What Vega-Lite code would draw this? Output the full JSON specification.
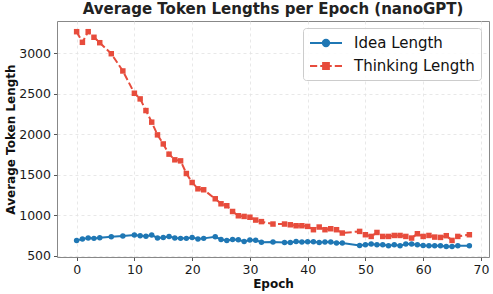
{
  "$schema": "https://vega.github.io/schema/vega-lite/v6.json",
  "width": 432,
  "height": 236,
  "autosize": {"type": "none"},
  "padding": {"left": 57, "top": 21, "right": 4, "bottom": 37},
  "background": "white",
  "title": {
    "text": "Average Token Lengths per Epoch (nanoGPT)",
    "font": "DejaVu Sans",
    "fontSize": 15,
    "fontWeight": "bold",
    "color": "#222222",
    "anchor": "middle",
    "frame": "group",
    "offset": 4
  },
  "config": {
    "view": {"stroke": "#888888", "strokeWidth": 1},
    "axis": {
      "labelFont": "DejaVu Sans",
      "labelFontSize": 12.5,
      "labelColor": "#1a1a1a",
      "titleFont": "DejaVu Sans",
      "titleFontSize": 12,
      "titleFontWeight": "bold",
      "titleColor": "#111111",
      "domain": false,
      "tickColor": "#555555",
      "tickSize": 3.5,
      "grid": true,
      "gridColor": "#e2e2e2",
      "gridDash": [3, 3],
      "gridWidth": 0.8
    }
  },
  "data": {
    "values": [
      {"epoch": 0, "series": "Idea Length", "value": 689},
      {"epoch": 1, "series": "Idea Length", "value": 706},
      {"epoch": 2, "series": "Idea Length", "value": 718},
      {"epoch": 3, "series": "Idea Length", "value": 714},
      {"epoch": 4, "series": "Idea Length", "value": 722},
      {"epoch": 6, "series": "Idea Length", "value": 734},
      {"epoch": 8, "series": "Idea Length", "value": 743},
      {"epoch": 10, "series": "Idea Length", "value": 755},
      {"epoch": 11, "series": "Idea Length", "value": 747},
      {"epoch": 12, "series": "Idea Length", "value": 740},
      {"epoch": 13, "series": "Idea Length", "value": 755},
      {"epoch": 14, "series": "Idea Length", "value": 720},
      {"epoch": 15, "series": "Idea Length", "value": 724},
      {"epoch": 16, "series": "Idea Length", "value": 736},
      {"epoch": 17, "series": "Idea Length", "value": 718},
      {"epoch": 18, "series": "Idea Length", "value": 714},
      {"epoch": 19, "series": "Idea Length", "value": 714},
      {"epoch": 20, "series": "Idea Length", "value": 726},
      {"epoch": 21, "series": "Idea Length", "value": 706},
      {"epoch": 22, "series": "Idea Length", "value": 714},
      {"epoch": 24, "series": "Idea Length", "value": 734},
      {"epoch": 25, "series": "Idea Length", "value": 701},
      {"epoch": 26, "series": "Idea Length", "value": 689},
      {"epoch": 27, "series": "Idea Length", "value": 701},
      {"epoch": 28, "series": "Idea Length", "value": 697},
      {"epoch": 29, "series": "Idea Length", "value": 676},
      {"epoch": 30, "series": "Idea Length", "value": 695},
      {"epoch": 31, "series": "Idea Length", "value": 692},
      {"epoch": 32, "series": "Idea Length", "value": 667},
      {"epoch": 34, "series": "Idea Length", "value": 669},
      {"epoch": 36, "series": "Idea Length", "value": 664},
      {"epoch": 37, "series": "Idea Length", "value": 664},
      {"epoch": 38, "series": "Idea Length", "value": 676},
      {"epoch": 39, "series": "Idea Length", "value": 669},
      {"epoch": 40, "series": "Idea Length", "value": 673},
      {"epoch": 41, "series": "Idea Length", "value": 673},
      {"epoch": 42, "series": "Idea Length", "value": 664},
      {"epoch": 43, "series": "Idea Length", "value": 669},
      {"epoch": 44, "series": "Idea Length", "value": 669},
      {"epoch": 45, "series": "Idea Length", "value": 657},
      {"epoch": 46, "series": "Idea Length", "value": 657},
      {"epoch": 49, "series": "Idea Length", "value": 627},
      {"epoch": 50, "series": "Idea Length", "value": 636},
      {"epoch": 51, "series": "Idea Length", "value": 644},
      {"epoch": 52, "series": "Idea Length", "value": 636},
      {"epoch": 53, "series": "Idea Length", "value": 636},
      {"epoch": 54, "series": "Idea Length", "value": 623},
      {"epoch": 55, "series": "Idea Length", "value": 636},
      {"epoch": 56, "series": "Idea Length", "value": 623},
      {"epoch": 57, "series": "Idea Length", "value": 644},
      {"epoch": 58, "series": "Idea Length", "value": 644},
      {"epoch": 59, "series": "Idea Length", "value": 636},
      {"epoch": 60, "series": "Idea Length", "value": 627},
      {"epoch": 61, "series": "Idea Length", "value": 623},
      {"epoch": 62, "series": "Idea Length", "value": 623},
      {"epoch": 63, "series": "Idea Length", "value": 623},
      {"epoch": 64, "series": "Idea Length", "value": 615},
      {"epoch": 65, "series": "Idea Length", "value": 615},
      {"epoch": 66, "series": "Idea Length", "value": 623},
      {"epoch": 68, "series": "Idea Length", "value": 623},
      {"epoch": 0, "series": "Thinking Length", "value": 3266},
      {"epoch": 1, "series": "Thinking Length", "value": 3135},
      {"epoch": 2, "series": "Thinking Length", "value": 3266},
      {"epoch": 3, "series": "Thinking Length", "value": 3197},
      {"epoch": 4, "series": "Thinking Length", "value": 3130},
      {"epoch": 6, "series": "Thinking Length", "value": 2994},
      {"epoch": 8, "series": "Thinking Length", "value": 2781},
      {"epoch": 10, "series": "Thinking Length", "value": 2506},
      {"epoch": 11, "series": "Thinking Length", "value": 2436},
      {"epoch": 12, "series": "Thinking Length", "value": 2292},
      {"epoch": 13, "series": "Thinking Length", "value": 2149},
      {"epoch": 14, "series": "Thinking Length", "value": 1992},
      {"epoch": 15, "series": "Thinking Length", "value": 1880},
      {"epoch": 16, "series": "Thinking Length", "value": 1754},
      {"epoch": 17, "series": "Thinking Length", "value": 1684},
      {"epoch": 18, "series": "Thinking Length", "value": 1671},
      {"epoch": 19, "series": "Thinking Length", "value": 1515},
      {"epoch": 20, "series": "Thinking Length", "value": 1404},
      {"epoch": 21, "series": "Thinking Length", "value": 1326},
      {"epoch": 22, "series": "Thinking Length", "value": 1314},
      {"epoch": 24, "series": "Thinking Length", "value": 1203},
      {"epoch": 25, "series": "Thinking Length", "value": 1141},
      {"epoch": 26, "series": "Thinking Length", "value": 1117},
      {"epoch": 27, "series": "Thinking Length", "value": 1046},
      {"epoch": 28, "series": "Thinking Length", "value": 993},
      {"epoch": 29, "series": "Thinking Length", "value": 985},
      {"epoch": 30, "series": "Thinking Length", "value": 975},
      {"epoch": 31, "series": "Thinking Length", "value": 940},
      {"epoch": 32, "series": "Thinking Length", "value": 921},
      {"epoch": 34, "series": "Thinking Length", "value": 891},
      {"epoch": 36, "series": "Thinking Length", "value": 891},
      {"epoch": 37, "series": "Thinking Length", "value": 882},
      {"epoch": 38, "series": "Thinking Length", "value": 870},
      {"epoch": 39, "series": "Thinking Length", "value": 870},
      {"epoch": 40, "series": "Thinking Length", "value": 862},
      {"epoch": 41, "series": "Thinking Length", "value": 821},
      {"epoch": 42, "series": "Thinking Length", "value": 854},
      {"epoch": 43, "series": "Thinking Length", "value": 821},
      {"epoch": 44, "series": "Thinking Length", "value": 833},
      {"epoch": 45, "series": "Thinking Length", "value": 821},
      {"epoch": 46, "series": "Thinking Length", "value": 780},
      {"epoch": 49, "series": "Thinking Length", "value": 800},
      {"epoch": 50, "series": "Thinking Length", "value": 759},
      {"epoch": 51, "series": "Thinking Length", "value": 738},
      {"epoch": 52, "series": "Thinking Length", "value": 787},
      {"epoch": 53, "series": "Thinking Length", "value": 738},
      {"epoch": 54, "series": "Thinking Length", "value": 738},
      {"epoch": 55, "series": "Thinking Length", "value": 750},
      {"epoch": 56, "series": "Thinking Length", "value": 750},
      {"epoch": 57, "series": "Thinking Length", "value": 738},
      {"epoch": 58, "series": "Thinking Length", "value": 718},
      {"epoch": 59, "series": "Thinking Length", "value": 771},
      {"epoch": 60, "series": "Thinking Length", "value": 738},
      {"epoch": 61, "series": "Thinking Length", "value": 750},
      {"epoch": 62, "series": "Thinking Length", "value": 730},
      {"epoch": 63, "series": "Thinking Length", "value": 726},
      {"epoch": 64, "series": "Thinking Length", "value": 747},
      {"epoch": 65, "series": "Thinking Length", "value": 689},
      {"epoch": 66, "series": "Thinking Length", "value": 738},
      {"epoch": 68, "series": "Thinking Length", "value": 759}
    ]
  },
  "encoding": {
    "x": {
      "field": "epoch",
      "type": "quantitative",
      "title": "Epoch",
      "scale": {"domain": [-3.4, 71.4], "nice": false, "zero": false},
      "axis": {"values": [0, 10, 20, 30, 40, 50, 60, 70], "titlePadding": 2, "labelPadding": 3}
    },
    "y": {
      "field": "value",
      "type": "quantitative",
      "title": "Average Token Length",
      "scale": {"domain": [484, 3398], "nice": false, "zero": false},
      "axis": {"values": [500, 1000, 1500, 2000, 2500, 3000], "format": "d", "titlePadding": 1, "labelPadding": 3}
    },
    "color": {
      "field": "series",
      "type": "nominal",
      "scale": {"domain": ["Idea Length", "Thinking Length"], "range": ["#1f77b4", "#e74c3c"]},
      "legend": {
        "title": null,
        "orient": "none",
        "legendX": 246,
        "legendY": 7,
        "padding": 6,
        "labelFont": "DejaVu Sans",
        "labelFontSize": 15,
        "labelColor": "#111111",
        "symbolSize": 256,
        "symbolOffset": 8,
        "labelOffset": 19,
        "rowPadding": 6,
        "strokeColor": "#cccccc",
        "fillColor": "rgba(255,255,255,0.85)",
        "cornerRadius": 3,
        "encode": {
          "symbols": {
            "update": {
              "shape": {"signal": "datum.value == 'Idea Length' ? 'M-2,0H-0.4M0.4,0H2M0.4,0A0.4,0.4 0 1 1 -0.4,0A0.4,0.4 0 1 1 0.4,0Z' : 'M-2,0H-1.1M-0.72,0H-0.4M0.4,0H0.72M1.1,0H2M-0.36,-0.36H0.36V0.36H-0.36Z'"},
              "size": {"value": 256},
              "fill": {"scale": "color", "field": "value"},
              "stroke": {"scale": "color", "field": "value"},
              "strokeWidth": {"value": 2},
              "opacity": {"value": 1}
            }
          }
        }
      }
    }
  },
  "layer": [
    {
      "transform": [{"filter": "datum.series == 'Idea Length'"}],
      "mark": {"type": "line", "strokeWidth": 2}
    },
    {
      "transform": [{"filter": "datum.series == 'Thinking Length'"}],
      "mark": {"type": "line", "strokeWidth": 2, "strokeDash": [7, 3]}
    },
    {
      "transform": [{"filter": "datum.series == 'Idea Length'"}],
      "mark": {"type": "point", "filled": true, "opacity": 1, "size": 30, "shape": "circle"}
    },
    {
      "transform": [{"filter": "datum.series == 'Thinking Length'"}],
      "mark": {"type": "point", "filled": true, "opacity": 1, "size": 30, "shape": "square"}
    }
  ]
}
